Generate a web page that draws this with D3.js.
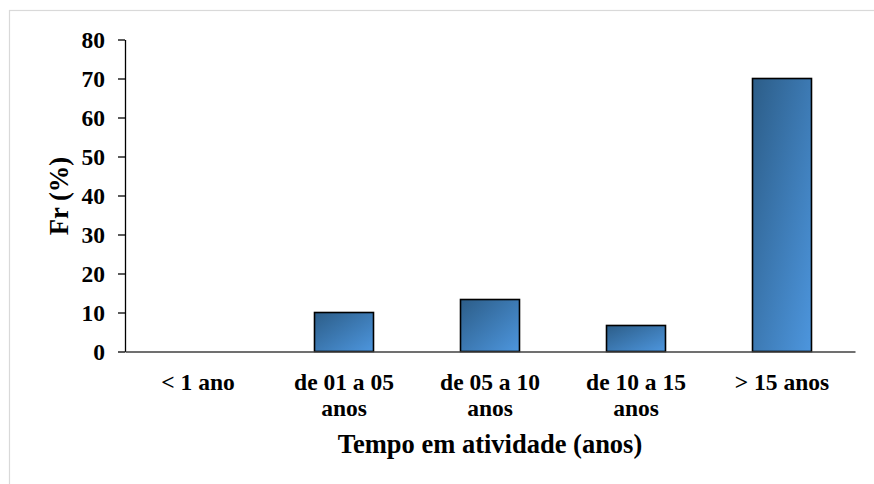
<!DOCTYPE html>
<html>
<head>
<meta charset="utf-8">
<script src="https://cdn.jsdelivr.net/npm/d3@7"></script>
<style>
  html, body { margin: 0; padding: 0; background: #fff; }
  svg { display: block; }
</style>
</head>
<body>
<div id="chart"></div>
<script>
// Tempo em atividade dos entrevistados (frequência relativa, %)
const categories = ["< 1 ano", "de 01 a 05 anos", "de 05 a 10 anos", "de 10 a 15 anos", "> 15 anos"];
const categoryLines = [["< 1 ano"], ["de 01 a 05", "anos"], ["de 05 a 10", "anos"], ["de 10 a 15", "anos"], ["> 15 anos"]];
const frValues = [0, 10, 13.33, 6.67, 70];
const yTicks = [0, 10, 20, 30, 40, 50, 60, 70, 80];

const FONT = "Liberation Serif";
const width = 874, height = 484;
const margin = { top: 39.5, right: 19, bottom: 132.5, left: 125 };

const svg = d3.select("#chart").append("svg")
  .attr("width", width)
  .attr("height", height)
  .attr("font-family", FONT)
  .attr("font-weight", "bold");

// Chart-area frame
svg.append("rect")
  .attr("x", 9.5).attr("y", 10.5)
  .attr("width", width + 10).attr("height", height + 10)
  .attr("fill", "none")
  .attr("stroke", "#d9d9d9")
  .attr("stroke-width", 1.2);

const defs = svg.append("defs");
const grad = defs.append("linearGradient")
  .attr("id", "barFill")
  .attr("x1", "0").attr("y1", "0")
  .attr("x2", "1").attr("y2", "1");
grad.append("stop").attr("offset", "0%").attr("stop-color", "#2c5d88");
grad.append("stop").attr("offset", "100%").attr("stop-color", "#4d96de");

const x = d3.scaleBand()
  .domain(categories)
  .range([margin.left, width - margin.right])
  .paddingInner(0.596)
  .paddingOuter(0.298);

const y = d3.scaleLinear()
  .domain([0, 80])
  .range([height - margin.bottom, margin.top]);

// Bars
svg.append("g")
  .selectAll("rect")
  .data(frValues)
  .join("rect")
  .attr("x", (d, i) => x(categories[i]))
  .attr("y", d => y(d))
  .attr("width", x.bandwidth())
  .attr("height", d => y(0) - y(d))
  .attr("fill", "url(#barFill)")
  .attr("stroke", "#000")
  .attr("stroke-width", 1.6)
  .style("display", d => d > 0 ? null : "none");

// Y axis
const yAxis = svg.append("g")
  .attr("transform", `translate(${margin.left},0)`)
  .call(d3.axisLeft(y).tickValues(yTicks).tickSize(7).tickSizeOuter(0).tickPadding(13))
  .attr("font-family", FONT)
  .attr("font-size", 23.5);
yAxis.select(".domain").attr("stroke", "#000").attr("stroke-width", 1.3);
yAxis.selectAll(".tick line").attr("stroke", "#000").attr("stroke-width", 1.3);
yAxis.selectAll(".tick text")
  .attr("font-family", FONT)
  .attr("font-weight", "bold")
  .attr("font-size", 23.5)
  .attr("fill", "#000");

// X axis baseline and category labels
const xAxis = svg.append("g")
  .attr("transform", `translate(0,${y(0)})`)
  .call(d3.axisBottom(x).tickSize(0).tickPadding(0))
  .attr("font-family", FONT)
  .attr("font-size", 23.5);
xAxis.select(".domain").attr("stroke", "#404040").attr("stroke-width", 1.3);
xAxis.selectAll(".tick text").remove();
xAxis.selectAll(".tick").each(function(d, i) {
  const t = d3.select(this).append("text")
    .attr("text-anchor", "middle")
    .attr("font-family", FONT)
    .attr("font-weight", "bold")
    .attr("font-size", 23.5)
    .attr("fill", "#000");
  categoryLines[i].forEach((line, k) => {
    t.append("tspan").attr("x", 0).attr("y", 38 + k * 26).text(line);
  });
});

// Axis titles
svg.append("text")
  .attr("x", (margin.left + width - margin.right) / 2)
  .attr("y", 453)
  .attr("text-anchor", "middle")
  .attr("font-family", FONT)
  .attr("font-size", 26.5)
  .attr("fill", "#000")
  .text("Tempo em atividade (anos)");

svg.append("text")
  .attr("transform", `translate(68,196) rotate(-90)`)
  .attr("text-anchor", "middle")
  .attr("font-family", FONT)
  .attr("font-size", 26.5)
  .attr("fill", "#000")
  .text("Fr (%)");
</script>
</body>
</html>
